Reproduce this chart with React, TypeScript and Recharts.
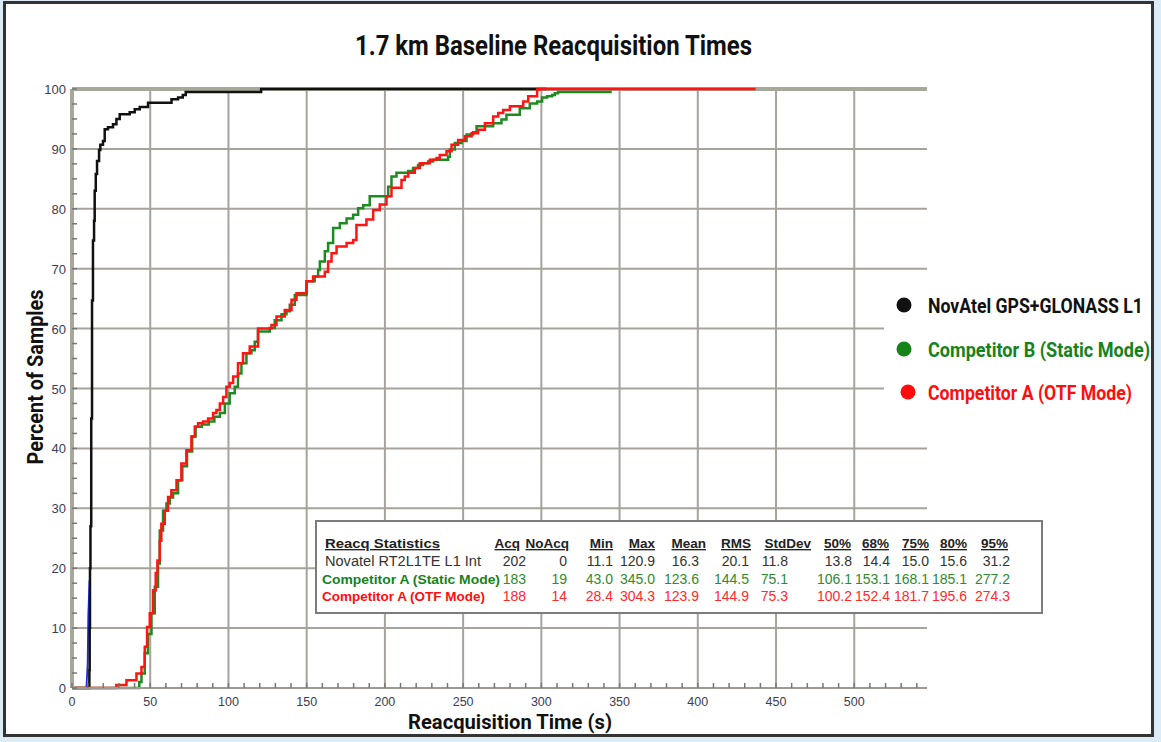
import React from 'react';
import { LineChart, Line, XAxis, YAxis, ReferenceLine } from 'recharts';

// reacquisition time (s) vs cumulative percent of samples
type Pt = { t: number; p: number };
const toPts = (rows: number[][]): Pt[] => rows.map(([t, p]) => ({ t, p }));

const novatelCdf = toPts([
  [0, 0], [11.1, 3], [11.3, 10], [11.5, 20], [11.8, 27], [12.3, 45], [12.8, 64.7], [13.4, 74.7],
  [14.1, 78], [14.5, 83], [15.2, 85.8], [16, 88], [17.3, 89.8], [18.1, 90.7], [19.8, 91.3],
  [20.9, 93.3], [23, 93.6], [26.2, 94.1], [28.4, 95], [30.5, 95.8], [36.9, 96.1], [40.1, 96.6],
  [43.3, 97], [48.6, 97.7], [63.6, 98.3], [67.8, 98.6], [70.8, 99], [72.7, 99.5], [120.9, 100],
  [303, 100],
]);

const blueTrace = toPts([[9.2, 0], [10, 4], [10.4, 12], [11.2, 18]]);

const staticCdf = toPts([
  [0, 0], [43, 1], [44.4, 2.4], [46.5, 5.8], [48.5, 9], [50.8, 12.5], [52.9, 16.9], [55, 20.8],
  [56.1, 26.3], [58.2, 29.6], [60.4, 30.8], [62.5, 31.8], [64.6, 32.5], [67.8, 34.7], [70.5, 37],
  [73.5, 39.5], [76.8, 42], [79, 43.6], [83, 44], [87.5, 44.5], [91, 45.3], [94.5, 45.9],
  [97.7, 47.5], [100.8, 49.2], [104, 50.3], [106.1, 52.5], [108.3, 54.2], [111.5, 55.9],
  [114.7, 56.4], [116.8, 57.8], [118.9, 59.5], [126.4, 60.1], [129.6, 61.4], [133.9, 62.4],
  [137.1, 62.9], [139.2, 64], [142.4, 65.6], [149.9, 67.9], [155.1, 68.7], [157.3, 69.8],
  [158.4, 71.2], [161.6, 72.9], [163.7, 74.3], [166.9, 76.8], [171.2, 77.6], [175.5, 78.4],
  [179.7, 79], [182.9, 80.1], [186.1, 80.6], [190.3, 82.1], [202.1, 83.7], [204.2, 85.4],
  [207.4, 86], [214.9, 86.3], [218, 86.8], [221.2, 87.3], [224.4, 87.6], [227.6, 87.9],
  [230.8, 88.2], [240.4, 88.7], [241.5, 89.9], [244.7, 91], [249, 91.3], [252.2, 92.4],
  [256.4, 92.8], [258.6, 93.8], [269.2, 94.3], [274.5, 94.9], [277.7, 95.7], [286.2, 96.8],
  [292.6, 97.6], [297.3, 97.9], [300.5, 98.6], [303.7, 98.8], [306.9, 99], [308.6, 99.3],
  [310.7, 99.5], [345, 99.5],
]);

const otfCdf = toPts([
  [0, 0], [28.4, 0.5], [34.8, 1.3], [41.2, 2.4], [44.4, 3.5], [46.5, 6.9], [48, 10.2],
  [49.7, 12.5], [51.8, 16.3], [53.5, 19.2], [54.6, 21.3], [56.1, 24.6], [57.1, 27.4],
  [59.3, 29.6], [61.4, 31.9], [63.5, 33], [66.8, 34.7], [69.9, 37.5], [73.1, 39.7], [76.3, 42],
  [78.5, 43.6], [80.6, 44.2], [83.8, 44.5], [87, 45], [90.2, 45.9], [92.3, 46.4], [94.5, 47.5],
  [96.6, 48.6], [98.7, 50.3], [100.8, 50.9], [103, 52], [106.1, 54.2], [109.3, 55.9],
  [113.6, 57], [118.9, 60], [127.5, 60.6], [130.7, 62], [136, 63.1], [140.3, 64.8],
  [143.5, 65.9], [149.9, 67.9], [154.1, 68.7], [161.6, 69.5], [163.7, 71.2], [165.9, 72.6],
  [169.1, 73.7], [175.5, 74.3], [179.7, 74.8], [181.8, 77.3], [188.2, 78.2], [192.5, 79.8],
  [196.7, 80.7], [201, 82.1], [204.2, 83.5], [210.6, 84.8], [212.7, 85.4], [214.9, 86],
  [219.1, 86.8], [222.3, 87.6], [228.7, 88.2], [233, 88.5], [235.1, 89], [239.4, 89.6],
  [242.6, 90.7], [246.8, 91.5], [251.1, 92.1], [255.4, 92.6], [259.6, 93.2], [263.9, 94.3],
  [269.2, 95.4], [272.4, 96], [275.6, 96.5], [279.9, 97.1], [288.4, 97.9], [291.6, 98.8],
  [297.3, 99.9], [299, 100], [437, 100],
]);

const xLabels = [0, 50, 100, 150, 200, 250, 300, 350, 400, 450, 500];
const yLabels = [0, 10, 20, 30, 40, 50, 60, 70, 80, 90, 100];
const xMinorStep = 10;
const yMinorStep = 2.5;
const xMax = 546.5;

const legendNames = ['NovAtel GPS+GLONASS  L1', 'Competitor B (Static Mode)', 'Competitor A (OTF Mode)'];
const legendColors = ['#111111', '#16821a', '#ff0d0d'];

const statHeaders = ['Acq', 'NoAcq', 'Min', 'Max', 'Mean', 'RMS', 'StdDev', '50%', '68%', '75%', '80%', '95%'];
const statRowNames = ['Novatel RT2L1TE L1 Int', 'Competitor A (Static Mode)', 'Competitor A (OTF Mode)'];
const novatelStats = [202, 0, 11.1, 120.9, 16.3, 20.1, 11.8, 13.8, 14.4, 15.0, 15.6, 31.2];
const staticStats = [183, 19, 43.0, 345.0, 123.6, 144.5, 75.1, 106.1, 153.1, 168.1, 185.1, 277.2];
const otfStats = [188, 14, 28.4, 304.3, 123.9, 144.9, 75.3, 100.2, 152.4, 181.7, 195.6, 274.3];

const xTicks = Array.from({ length: Math.floor(xMax / xMinorStep) + 1 }, (_, i) => i * xMinorStep);
const yTicks = Array.from({ length: 100 / yMinorStep + 1 }, (_, i) => i * yMinorStep);

const GRID = '#a6a39b';
const TICK_TEXT = '#3c3c54';
const SANS = '"Liberation Sans", Arial, sans-serif';
const BOLD = 'Roboto, "Open Sans", sans-serif';

const XTick = (props: any) => {
  const { x, y, payload } = props;
  const v = payload.value;
  return (
    <g>
      <line x1={x} x2={x} y1={y} y2={y - 5} stroke="#777" strokeWidth={1.5} />
      {xLabels.includes(v) && (
        <text x={x} y={y + 18} textAnchor="middle" fontSize={12.5} fontFamily={SANS} fill={TICK_TEXT}>{v}</text>
      )}
    </g>
  );
};

const YTick = (props: any) => {
  const { x, y, payload } = props;
  const v = payload.value;
  return (
    <g>
      <line x1={x} x2={x + 5} y1={y} y2={y} stroke="#777" strokeWidth={1.5} />
      {yLabels.includes(v) && (
        <text x={x - 6} y={y + 5} textAnchor="end" fontSize={13} fontFamily={SANS} fill={TICK_TEXT}>{v}</text>
      )}
    </g>
  );
};

// right edges of the stats table columns
const headRight = [520, 569, 613, 655, 706, 751, 811, 851, 889, 929, 967, 1008];
const valRight = [526, 567, 613, 655, 699, 749, 788, 852, 890, 929, 967, 1010];
const fmt = (v: number, i: number) => (i < 2 ? String(v) : v.toFixed(1));

export default function App() {
  const rows = [
    { name: statRowNames[0], vals: novatelStats, color: '#333333', labelColor: '#333333', bold: false, width: 156 },
    { name: statRowNames[1], vals: staticStats, color: '#2e8b2e', labelColor: '#16821a', bold: true, width: 178 },
    { name: statRowNames[2], vals: otfStats, color: '#ff2a2a', labelColor: '#ff0d0d', bold: true, width: 163 },
  ];
  const legendY = [305, 349, 392];
  const legendLen = [215, 222, 204];

  return (
    <div style={{ position: 'fixed', left: 0, top: 0, width: 1161, height: 742, background: '#dcecf6', overflow: 'hidden' }}>
      <div style={{ position: 'absolute', left: 3, top: 1, width: 1151, height: 736, border: '3px solid #333', boxSizing: 'border-box', background: '#fff' }} />
      <div style={{ position: 'absolute', left: 0, top: 0 }}>
        <LineChart width={1161} height={742} margin={{ top: 89, right: 234, bottom: 24, left: 12 }}>
          <XAxis
            type="number"
            dataKey="t"
            domain={[0, xMax]}
            ticks={xTicks}
            interval={0}
            height={30}
            tickSize={0}
            tickMargin={0}
            tick={<XTick />}
            axisLine={{ stroke: '#9c9a92', strokeWidth: 2 }}
            allowDataOverflow
          />
          <YAxis
            type="number"
            dataKey="p"
            domain={[0, 100]}
            ticks={yTicks}
            interval={0}
            width={60}
            tickSize={0}
            tickMargin={0}
            tick={<YTick />}
            axisLine={{ stroke: '#a8a89a', strokeWidth: 4 }}
          />
          {xLabels.filter((v) => v > 0).map((v) => (
            <ReferenceLine key={'gx' + v} x={v} stroke={GRID} strokeWidth={2} />
          ))}
          {yLabels.filter((v) => v > 0 && v < 100).map((v) => (
            <ReferenceLine key={'gy' + v} y={v} stroke={GRID} strokeWidth={2} />
          ))}
          <ReferenceLine y={100} stroke="#a8a89a" strokeWidth={4} />
          <Line data={blueTrace} dataKey="p" type="linear" stroke="#1a2cf0" strokeWidth={1.8} dot={false} isAnimationActive={false} />
          <Line data={novatelCdf} dataKey="p" type="stepAfter" stroke={legendColors[0]} strokeWidth={2.5} dot={false} isAnimationActive={false} name={legendNames[0]} />
          <Line data={staticCdf} dataKey="p" type="stepAfter" stroke="#1e8a22" strokeWidth={2.5} dot={false} isAnimationActive={false} name={legendNames[1]} />
          <Line data={otfCdf} dataKey="p" type="stepAfter" stroke="#ff1414" strokeWidth={2.5} dot={false} isAnimationActive={false} name={legendNames[2]} />
        </LineChart>
      </div>
      <svg width={1161} height={742} style={{ position: 'absolute', left: 0, top: 0 }}>
        <text x={553.5} y={55} textAnchor="middle" fontSize={28} fontWeight={700} fontFamily={BOLD} fill="#111" textLength={397} lengthAdjust="spacingAndGlyphs">
          1.7 km Baseline Reacquisition Times
        </text>
        <text transform="translate(43,377) rotate(-90)" textAnchor="middle" fontSize={22} fontWeight={700} fontFamily={BOLD} fill="#111" textLength={175} lengthAdjust="spacingAndGlyphs">
          Percent of Samples
        </text>
        <text x={510} y={729} textAnchor="middle" fontSize={21} fontWeight={700} fontFamily={BOLD} fill="#111" textLength={204} lengthAdjust="spacingAndGlyphs">
          Reacquisition Time (s)
        </text>

        <rect x={884} y={284} width={266} height={126} fill="#fff" />
        {legendNames.map((n, i) => (
          <g key={n}>
            <circle cx={i === 2 ? 908 : 904} cy={legendY[i]} r={7.5} fill={legendColors[i]} />
            <text
              transform={`translate(928,${legendY[i] + 8}) scale(1,1.17)`}
              fontSize={18}
              fontWeight={700}
              fontFamily={BOLD}
              fill={legendColors[i]}
              textLength={legendLen[i]}
              lengthAdjust="spacingAndGlyphs"
            >
              {n}
            </text>
          </g>
        ))}

        <rect x={316} y={521} width={726} height={92} fill="#fff" stroke="#7c7c7c" strokeWidth={2} />
        <g fontFamily={SANS}>
          <text x={325} y={548} fontSize={13.5} fontWeight={700} fill="#222" textDecoration="underline" textLength={115} lengthAdjust="spacingAndGlyphs">
            Reacq Statistics
          </text>
          {statHeaders.map((h, i) => (
            <text key={h} x={headRight[i]} y={548} textAnchor="end" fontSize={13.5} fontWeight={700} fill="#222" textDecoration="underline">
              {h}
            </text>
          ))}
          {rows.map((r, ri) => (
            <g key={r.name}>
              <text x={ri === 0 ? 325 : 322} y={566 + ri * 17.5} fontSize={r.bold ? 12.5 : 14} fontWeight={r.bold ? 700 : 400} fill={r.labelColor} textLength={r.width} lengthAdjust="spacingAndGlyphs">
                {r.name}
              </text>
              {r.vals.map((v, i) => (
                <text key={i} x={valRight[i]} y={566 + ri * 17.5} textAnchor="end" fontSize={14} fill={r.color}>
                  {fmt(v, i)}
                </text>
              ))}
            </g>
          ))}
        </g>
      </svg>
    </div>
  );
}
